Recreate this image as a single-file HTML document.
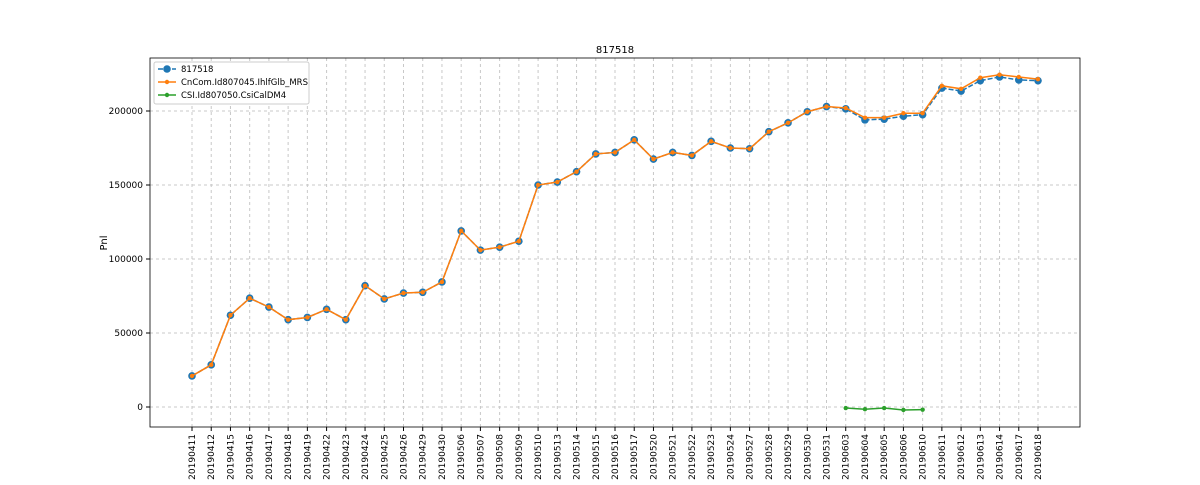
<!DOCTYPE html>
<html><head><meta charset="utf-8"><style>
body{margin:0;background:#fff;font-family:"Liberation Sans","DejaVu Sans",sans-serif}
svg text{font-family:"DejaVu Sans","Liberation Sans",sans-serif}
</style></head><body>
<svg id="chart" width="1200" height="480" xmlns="http://www.w3.org/2000/svg"></svg>
<script>
const categories=["20190411","20190412","20190415","20190416","20190417","20190418","20190419","20190422","20190423","20190424","20190425","20190426","20190429","20190430","20190506","20190507","20190508","20190509","20190510","20190513","20190514","20190515","20190516","20190517","20190520","20190521","20190522","20190523","20190524","20190527","20190528","20190529","20190530","20190531","20190603","20190604","20190605","20190606","20190610","20190611","20190612","20190613","20190614","20190617","20190618"];
const seriesMain=[21000,28500,62000,73500,67500,59000,60500,66000,59000,82000,73000,77000,77500,84500,119000,106000,108000,112000,150000,152000,159000,171000,172000,180500,167500,172000,170000,179500,175000,174500,186000,192000,199500,203000,201500,194000,194500,196500,197500,215500,213500,220500,223000,221000,220500];
const seriesMrs=[21000,28500,62000,73500,67500,59000,60500,66000,59000,82000,73000,77000,77500,84500,119000,106000,108000,112000,150000,152000,159000,171000,172000,180500,167500,172000,170000,179500,175000,174500,186000,192000,199500,203000,202000,195500,195500,198500,198500,217000,215000,222500,224500,223000,221500];
const csiStart=34;
const seriesCsi=[-700,-1500,-700,-2000,-1800];
const yTicks=[0,50000,100000,150000,200000];
const NS="http://www.w3.org/2000/svg";
const svg=document.getElementById('chart');
const L=150,R=1080,T=58,B=427;
const x=i=>192+i*(1038-192)/(categories.length-1);
const y=v=>407-v*(296/200000);
function el(t,a,p){const e=document.createElementNS(NS,t);for(const k in a)e.setAttribute(k,a[k]);(p||svg).appendChild(e);return e;}
const title=el('text',{x:615,y:53,'text-anchor':'middle','font-size':10});title.textContent='817518';


const yl=el('text',{x:107,y:243,'text-anchor':'middle','font-size':10,transform:'rotate(-90 107 243)'});yl.textContent='Pnl';


categories.forEach((c,i)=>{
 const g=el('line',{x1:x(i),x2:x(i),y1:T,y2:B,stroke:'#c8c8c8','stroke-dasharray':'3,3','stroke-width':1});
 
 
 el('line',{x1:x(i),x2:x(i),y1:B,y2:B+4,stroke:'#000'});
 const t=el('text',{x:0,y:0,'text-anchor':'end','font-size':9,transform:`translate(${x(i)+3},${B+7}) rotate(-90)`});
 t.textContent=c;
 
 
});
yTicks.forEach(v=>{
 const g=el('line',{x1:L,x2:R,y1:y(v),y2:y(v),stroke:'#c8c8c8','stroke-dasharray':'3,3'});
 
 
 el('line',{x1:L-4,x2:L,y1:y(v),y2:y(v),stroke:'#000'});
 const t=el('text',{x:L-7,y:y(v)+3,'text-anchor':'end','font-size':9});t.textContent=v;
 
 
});
const frame=el('rect',{x:L,y:T,width:R-L,height:B-T,fill:'none',stroke:'#000','stroke-width':0.8});


function series(vals,off,color,dash,r,name){
 const pts=vals.map((v,i)=>x(i+off)+','+y(v)).join(' ');
 const pl=el('polyline',{points:pts,fill:'none',stroke:color,'stroke-width':1.5,'stroke-dasharray':dash||''});
 
 
 vals.forEach((v,i)=>{const c=el('circle',{cx:x(i+off),cy:y(v),r:r,fill:color});
  
  });
}
series(seriesMain,0,'#1f77b4','5,2',3.8,'series-817518');
series(seriesMrs,0,'#ff7f0e','',2.2,'series-mrs');
series(seriesCsi,csiStart,'#2ca02c','',2.2,'series-csi');
// legend
const lg=el('g',{});


el('rect',{x:154,y:62,width:155,height:42,fill:'#fff',stroke:'#ccc',rx:2},lg);
[['817518','#1f77b4','5,2',3.8],['CnCom.Id807045.IhlfGlb_MRS','#ff7f0e','',2.2],['CSI.Id807050.CsiCalDM4','#2ca02c','',2.2]].forEach((d,i)=>{
 const yy=69+i*13;
 el('line',{x1:158,x2:176,y1:yy,y2:yy,stroke:d[1],'stroke-width':1.5,'stroke-dasharray':d[2]},lg);
 el('circle',{cx:167,cy:yy,r:d[3],fill:d[1]},lg);
 const t=el('text',{x:181,y:yy+3,'font-size':8.5},lg);t.textContent=d[0];
 
 
});
</script>
</body></html>
